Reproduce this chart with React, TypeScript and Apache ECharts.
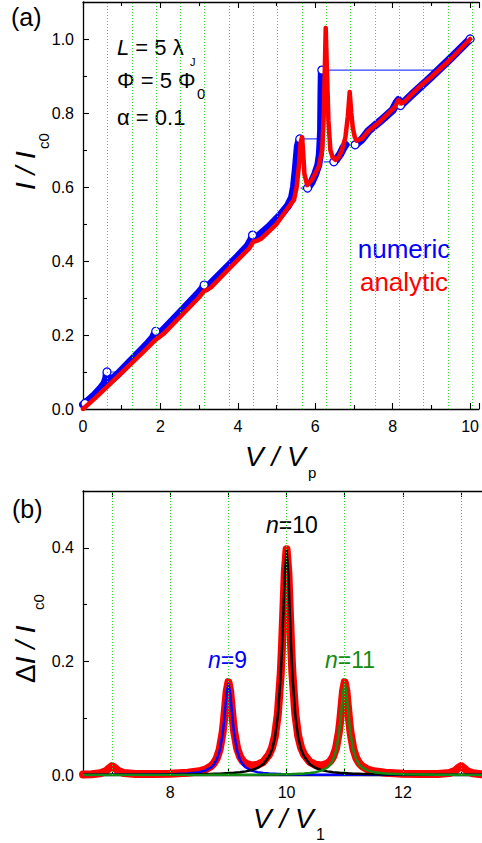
import React, { useEffect, useRef } from "react";
import * as echarts from "echarts";

// ---------- Panel (a): I/Ic0 vs V/Vp ----------
const numV = [0, 0.15, 0.3, 0.45, 0.55, 0.6, 0.62, null, 0.66, 0.9, 1.2, 1.5, 1.7, 1.8, 1.85, 1.88, null, 1.95, 2.3, 2.7, 3.0, 3.1, 3.13, null, 3.2, 3.6, 4.0, 4.25, 4.35, 4.38, null, 4.45, 4.8, 5.1, 5.3, 5.4, 5.45, 5.5, 5.55, 5.6, null, 5.8, 5.9, 6.0, 6.08, 6.12, 6.15, 6.16, 6.17, null, 6.48, 6.55, 6.65, 6.72, 6.78, null, 7.03, 7.2, 7.38, 7.7, 8.0, 8.1, 8.15, null, 8.2, 8.5, 9.0, 9.5, 10.0];
const numI = [0.012, 0.024, 0.038, 0.055, 0.068, 0.082, 0.1, null, 0.072, 0.094, 0.126, 0.158, 0.18, 0.192, 0.203, 0.21, null, 0.2, 0.238, 0.282, 0.315, 0.328, 0.335, null, 0.328, 0.37, 0.412, 0.44, 0.458, 0.47, null, 0.46, 0.492, 0.524, 0.55, 0.572, 0.6, 0.65, 0.71, 0.73, null, 0.597, 0.612, 0.635, 0.66, 0.69, 0.75, 0.85, 0.916, null, 0.668, 0.675, 0.69, 0.705, 0.714, null, 0.714, 0.728, 0.752, 0.78, 0.808, 0.828, 0.835, null, 0.82, 0.85, 0.898, 0.948, 1.0];

const connV = [0.62, 0.9, null, 5.6, 6.1, null, 6.17, 9.05, null, 5.62, 5.8, null, 6.22, 6.48, null, 6.78, 7.03];
const connI = [0.1, 0.1, null, 0.73, 0.73, null, 0.916, 0.916, null, 0.597, 0.597, null, 0.668, 0.668, null, 0.714, 0.714];

const circV = [0.05, 0.62, 1.88, 3.13, 4.38, 5.6, 6.17, 5.8, 6.48, 7.03, 8.2, 10.0];
const circI = [0.015, 0.1, 0.21, 0.335, 0.47, 0.73, 0.916, 0.597, 0.668, 0.714, 0.82, 1.0];

const anaV = [0, 0.3, 0.6, 1.0, 1.5, 1.85, 1.95, 2.1, 2.5, 3.0, 3.12, 3.2, 3.3, 3.8, 4.3, 4.4, 4.5, 4.6, 5.0, 5.27, 5.45, 5.52, 5.58, 5.62, 5.66, 5.69, 5.72, 5.79, 5.92, 6.09, 6.18, 6.22, 6.25, 6.27, 6.3, 6.34, 6.39, 6.45, 6.52, 6.6, 6.69, 6.78, 6.84, 6.89, 6.93, 6.97, 7.02, 7.07, 7.2, 7.38, 7.7, 8.05, 8.15, 8.22, 8.3, 8.66, 9.0, 9.5, 10.0];
const anaI = [0, 0.028, 0.058, 0.098, 0.148, 0.185, 0.193, 0.205, 0.248, 0.302, 0.318, 0.322, 0.328, 0.382, 0.435, 0.452, 0.455, 0.46, 0.5, 0.54, 0.565, 0.6, 0.66, 0.72, 0.735, 0.69, 0.635, 0.605, 0.62, 0.655, 0.7, 0.8, 0.93, 1.03, 0.92, 0.78, 0.7, 0.68, 0.673, 0.68, 0.7, 0.735, 0.79, 0.857, 0.8, 0.76, 0.735, 0.725, 0.73, 0.752, 0.78, 0.815, 0.835, 0.826, 0.83, 0.868, 0.898, 0.946, 1.0];

const gridLinesA = [0.628, 1.257, 1.885, 2.513, 3.142, 3.770, 4.398, 5.027, 5.655, 6.283, 6.912, 7.540, 8.168, 8.796, 9.425, 10.053];

// ---------- Panel (b): dI/Ic0 vs V/V1 ----------
const vGrid = [6.5, 6.65, 6.8, 6.9, 6.95, 7.0, 7.05, 7.1, 7.2, 7.4, 7.7, 8.0, 8.3, 8.5, 8.6, 8.7, 8.75, 8.8, 8.85, 8.9, 8.92, 8.95, 8.97, 9.0, 9.03, 9.05, 9.08, 9.1, 9.15, 9.2, 9.25, 9.3, 9.4, 9.5, 9.6, 9.7, 9.75, 9.8, 9.85, 9.9, 9.92, 9.95, 9.97, 10.0, 10.03, 10.05, 10.08, 10.1, 10.15, 10.2, 10.25, 10.3, 10.4, 10.5, 10.6, 10.7, 10.75, 10.8, 10.85, 10.9, 10.92, 10.95, 10.97, 11.0, 11.03, 11.05, 11.08, 11.1, 11.15, 11.2, 11.25, 11.3, 11.4, 11.5, 11.7, 12.0, 12.3, 12.6, 12.8, 12.9, 12.95, 13.0, 13.05, 13.1, 13.2, 13.35, 13.5];

const totalRed = [0.0010, 0.0014, 0.0030, 0.0072, 0.0120, 0.0157, 0.0122, 0.0075, 0.0034, 0.0017, 0.0017, 0.0023, 0.0039, 0.0066, 0.0095, 0.0154, 0.0207, 0.0294, 0.0451, 0.0746, 0.0924, 0.1252, 0.1473, 0.1635, 0.1477, 0.1258, 0.0934, 0.0759, 0.0471, 0.0321, 0.0243, 0.0200, 0.0168, 0.0179, 0.0231, 0.0362, 0.0480, 0.0687, 0.1075, 0.1794, 0.2233, 0.3043, 0.3583, 0.3976,
  0.3583, 0.3043, 0.2233, 0.1794, 0.1075, 0.0687, 0.0480, 0.0362, 0.0231, 0.0179, 0.0168, 0.0200, 0.0243, 0.0321, 0.0471, 0.0759, 0.0934, 0.1258, 0.1477, 0.1635, 0.1473, 0.1252, 0.0924, 0.0746, 0.0451, 0.0294, 0.0207, 0.0154, 0.0095, 0.0066, 0.0039, 0.0023, 0.0017, 0.0017, 0.0034, 0.0075, 0.0122, 0.0157, 0.0120, 0.0072, 0.0030, 0.0014, 0.0010];

const n9Blue = [0.0002, 0.0002, 0.0002, 0.0002, 0.0002, 0.0003, 0.0003, 0.0003, 0.0004, 0.0005, 0.0008, 0.0013, 0.0026, 0.0050, 0.0077, 0.0132, 0.0184, 0.0269, 0.0424, 0.0717, 0.0894, 0.122, 0.144, 0.16, 0.144, 0.122, 0.0894, 0.0717, 0.0424, 0.0269, 0.0184, 0.0132, 0.0077, 0.0050, 0.0035, 0.0026, 0.0023, 0.0020, 0.0018, 0.0016, 0.0015, 0.0014, 0.0014, 0.0013,
  0.0012, 0.0012, 0.0011, 0.0011, 0.0010, 0.0009, 0.0008, 0.0008, 0.0007, 0.0006, 0.0005, 0.0004, 0.0004, 0.0004, 0.0004, 0.0004, 0.0003, 0.0003, 0.0003, 0.0003, 0.0003, 0.0003, 0.0003, 0.0003, 0.0003, 0.0003, 0.0003, 0.0003, 0.0002, 0.0002, 0.0002, 0.0001, 0.0001, 0.0001, 0.0001, 0.0001, 0.0001, 0.0001, 0.0001, 0.0001, 0.0001, 0.0001, 0.0001];

const n10Black = [0.0003, 0.0003, 0.0003, 0.0003, 0.0003, 0.0004, 0.0004, 0.0004, 0.0004, 0.0005, 0.0006, 0.0008, 0.0011, 0.0014, 0.0016, 0.0019, 0.0020, 0.0022, 0.0024, 0.0026, 0.0027, 0.0029, 0.0030, 0.0032, 0.0034, 0.0035, 0.0037, 0.0039, 0.0044, 0.0049, 0.0056, 0.0064, 0.0087, 0.0124, 0.019, 0.033, 0.045, 0.066, 0.105, 0.177, 0.221, 0.302, 0.356, 0.395,
  0.356, 0.302, 0.221, 0.177, 0.105, 0.066, 0.045, 0.033, 0.019, 0.0124, 0.0087, 0.0064, 0.0056, 0.0049, 0.0044, 0.0039, 0.0037, 0.0035, 0.0034, 0.0032, 0.0030, 0.0029, 0.0027, 0.0026, 0.0024, 0.0022, 0.0020, 0.0019, 0.0016, 0.0014, 0.0011, 0.0008, 0.0006, 0.0005, 0.0004, 0.0004, 0.0004, 0.0004, 0.0003, 0.0003, 0.0003, 0.0003, 0.0003];

const n11Green = [0.0001, 0.0001, 0.0001, 0.0001, 0.0001, 0.0001, 0.0001, 0.0001, 0.0001, 0.0001, 0.0001, 0.0001, 0.0002, 0.0002, 0.0002, 0.0003, 0.0003, 0.0003, 0.0003, 0.0003, 0.0003, 0.0003, 0.0003, 0.0003, 0.0003, 0.0003, 0.0003, 0.0004, 0.0004, 0.0004, 0.0004, 0.0004, 0.0005, 0.0006, 0.0007, 0.0008, 0.0008, 0.0009, 0.0010, 0.0011, 0.0011, 0.0012, 0.0012, 0.0013,
  0.0014, 0.0014, 0.0015, 0.0016, 0.0018, 0.0020, 0.0023, 0.0026, 0.0035, 0.0050, 0.0077, 0.0132, 0.0184, 0.0269, 0.0424, 0.0717, 0.0894, 0.122, 0.144, 0.16, 0.144, 0.122, 0.0894, 0.0717, 0.0424, 0.0269, 0.0184, 0.0132, 0.0077, 0.0050, 0.0026, 0.0013, 0.0008, 0.0005, 0.0004, 0.0003, 0.0003, 0.0003, 0.0003, 0.0002, 0.0002, 0.0002, 0.0002];

const gridLinesB = [7, 8, 9, 10, 11, 12, 13];
const ticksA_x = [0, 2, 4, 6, 8, 10];
const labelsB_x = [8, 10, 12];

const FONT = '"Liberation Sans", Arial, Helvetica, sans-serif';
const GREEN_GRID = "#3ad93a";

function pairs(xs: (number | null)[], ys: (number | null)[]) {
  return xs.map((x, i) => (x === null || ys[i] === null ? ["-", "-"] : [x, ys[i]]));
}

function txt(x: number, y: number, text: string, size: number, fill = "#000", extra: any = {}) {
  return {
    type: "text",
    x,
    y,
    silent: true,
    style: {
      text,
      fontSize: size,
      fontFamily: FONT,
      fill,
      align: "left",
      verticalAlign: "middle",
      textAlign: "left",
      textVerticalAlign: "middle",
      ...extra,
    },
  };
}

export default function App() {
  const ref = useRef<HTMLDivElement>(null);
  useEffect(() => {
    if (!ref.current) return;
    const chart = echarts.init(ref.current, undefined, { renderer: "svg" });

    const axisLine = { onZero: false, lineStyle: { color: "#000", width: 1.3 } };
    const tick = { inside: true, length: 6, lineStyle: { color: "#000", width: 1.1 } };
    const minor = { show: true, splitNumber: 2, length: 4, lineStyle: { color: "#000", width: 1.1 } };
    const label = { fontSize: 16, color: "#000", fontFamily: FONT, margin: 9 };

    const markA = {
      silent: true,
      symbol: ["none", "none"],
      label: { show: false },
      lineStyle: { color: GREEN_GRID, width: 1, type: [1, 2] },
      data: gridLinesA.map((v) => ({ xAxis: v })),
    };
    const markB = { ...markA, data: gridLinesB.map((v) => ({ xAxis: v })) };

    const option: any = {
      animation: false,
      grid: [
        { left: 83, top: 2, width: 399, height: 407 },
        { left: 83, top: 491, width: 399, height: 284 },
      ],
      xAxis: [
        {
          gridIndex: 0, type: "value", min: 0, max: 10.23, interval: 2,
          axisLine, axisTick: tick, minorTick: minor, splitLine: { show: false },
          axisLabel: { ...label, customValues: ticksA_x },
        },
        {
          gridIndex: 0, type: "value", position: "top", min: 0, max: 10.23, interval: 2,
          axisLine, axisTick: tick, minorTick: minor, splitLine: { show: false },
          axisLabel: { show: false },
        },
        {
          gridIndex: 1, type: "value", min: 6.5, max: 13.36,
          axisLine, axisTick: { ...tick, customValues: gridLinesB }, splitLine: { show: false },
          axisLabel: { ...label, customValues: labelsB_x },
        },
        {
          gridIndex: 1, type: "value", position: "top", min: 6.5, max: 13.36,
          axisLine, axisTick: { ...tick, customValues: gridLinesB }, splitLine: { show: false },
          axisLabel: { show: false },
        },
      ],
      yAxis: [
        {
          gridIndex: 0, type: "value", min: 0, max: 1.1, interval: 0.2,
          axisLine, axisTick: tick, minorTick: minor, splitLine: { show: false },
          axisLabel: { ...label, showMaxLabel: false, formatter: (v: number) => v.toFixed(1) },
        },
        {
          gridIndex: 1, type: "value", min: 0, max: 0.5, interval: 0.2,
          axisLine, axisTick: tick, minorTick: minor, splitLine: { show: false },
          axisLabel: { ...label, showMaxLabel: false, formatter: (v: number) => v.toFixed(1) },
        },
      ],
      series: [
        {
          type: "line", xAxisIndex: 0, yAxisIndex: 0, data: pairs(connV, connI),
          showSymbol: false, symbol: "none", silent: true, connectNulls: false,
          lineStyle: { color: "#3040ff", width: 1.2 }, markLine: markA, z: 2,
        },
        {
          type: "line", xAxisIndex: 0, yAxisIndex: 0, data: pairs(numV, numI),
          showSymbol: false, symbol: "none", silent: true, connectNulls: false,
          lineStyle: { color: "#0000ff", width: 8, cap: "round", join: "round" }, z: 3,
        },
        {
          type: "scatter", xAxisIndex: 0, yAxisIndex: 0, data: pairs(circV, circI),
          symbol: "circle", symbolSize: 8, silent: true,
          itemStyle: { color: "#ffffff", borderColor: "#0000ff", borderWidth: 1.2, opacity: 1 }, z: 4,
        },
        {
          type: "line", xAxisIndex: 0, yAxisIndex: 0, data: pairs(anaV, anaI),
          showSymbol: false, symbol: "none", silent: true,
          lineStyle: { color: "#ff0000", width: 4.5, cap: "round", join: "round" }, z: 5,
        },
        {
          type: "line", xAxisIndex: 2, yAxisIndex: 1, data: pairs(vGrid, totalRed),
          showSymbol: false, symbol: "none", silent: true,
          lineStyle: { color: "#ff0000", width: 8, cap: "round", join: "round" }, markLine: markB, z: 2,
        },
        {
          type: "line", xAxisIndex: 2, yAxisIndex: 1, data: pairs(vGrid, n9Blue),
          showSymbol: false, symbol: "none", silent: true,
          lineStyle: { color: "#0000ff", width: 2.5, join: "round" }, z: 3,
        },
        {
          type: "line", xAxisIndex: 2, yAxisIndex: 1, data: pairs(vGrid, n10Black),
          showSymbol: false, symbol: "none", silent: true,
          lineStyle: { color: "#000000", width: 2.5, join: "round" }, z: 3,
        },
        {
          type: "line", xAxisIndex: 2, yAxisIndex: 1, data: pairs(vGrid, n11Green),
          showSymbol: false, symbol: "none", silent: true,
          lineStyle: { color: "#138a13", width: 2.5, join: "round" }, z: 3,
        },
      ],
      graphic: {
        elements: [
          txt(11, 17, "(a)", 25),
          txt(12, 509, "(b)", 25),
          // annotations panel (a)
          txt(117, 47, "{i|L} = 5 λ", 22, "#000", {
            rich: { i: { fontStyle: "italic", fontSize: 22, fontFamily: FONT, fill: "#000" } },
          }),
          txt(190, 62, "J", 11),
          txt(117, 80, "Φ = 5 Φ", 22),
          txt(197, 93, "0", 15),
          txt(117, 117, "α = 0.1", 22),
          txt(404, 249, "numeric", 26, "#0000ff", { align: "center", textAlign: "center" }),
          txt(404, 282, "analytic", 26, "#ff0000", { align: "center", textAlign: "center" }),
          // axis titles panel (a)
          txt(245, 456, "V / V", 28, "#000", { fontStyle: "italic" }),
          txt(308, 472, "p", 15),
          {
            type: "group", x: 35, y: 190, rotation: Math.PI / 2, silent: true,
            children: [
              txt(0, -10, "I / I", 28, "#000", { fontStyle: "italic" }),
              txt(41, 8, "c0", 15),
            ],
          },
          // panel (b) labels
          txt(266, 525, "{i|n}=10", 23, "#000", {
            rich: { i: { fontStyle: "italic", fontSize: 23, fontFamily: FONT, fill: "#000" } },
          }),
          txt(208, 660, "{i|n}=9", 23, "#0000ff", {
            rich: { i: { fontStyle: "italic", fontSize: 23, fontFamily: FONT, fill: "#0000ff" } },
          }),
          txt(325, 660, "{i|n}=11", 23, "#138a13", {
            rich: { i: { fontStyle: "italic", fontSize: 23, fontFamily: FONT, fill: "#138a13" } },
          }),
          txt(253, 818, "V / V", 28, "#000", { fontStyle: "italic" }),
          txt(316, 834, "1", 16),
          {
            type: "group", x: 35, y: 683, rotation: Math.PI / 2, silent: true,
            children: [
              txt(0, -10, "Δ{i|I / I}", 28, "#000", {
                rich: { i: { fontStyle: "italic", fontSize: 28, fontFamily: FONT, fill: "#000" } },
              }),
              txt(73, 3, "c0", 15),
            ],
          },
        ],
      },
    };

    chart.setOption(option);
    return () => chart.dispose();
  }, []);

  return (
    <div
      ref={ref}
      style={{ position: "absolute", left: 0, top: 0, width: 482, height: 843, background: "#fff" }}
    />
  );
}
